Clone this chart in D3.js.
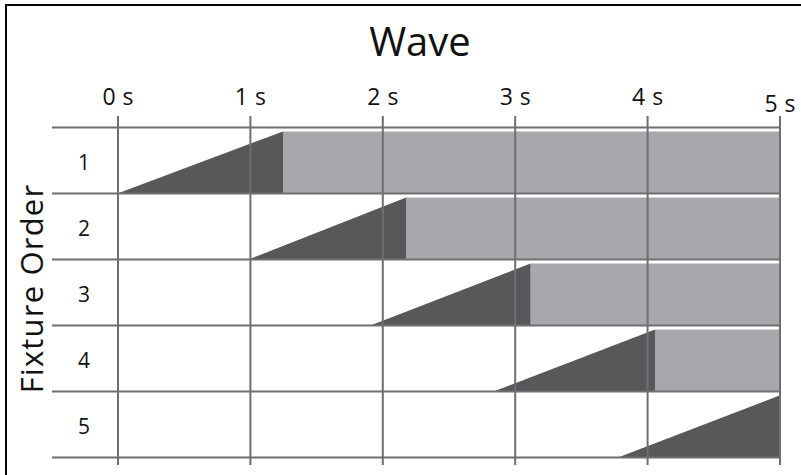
<!DOCTYPE html>
<html><head><meta charset="utf-8">
<script src="https://cdn.jsdelivr.net/npm/d3@7"></script>
<style>
html,body{margin:0;padding:0;background:#fff;}
svg{display:block;font-family:"Open Sans",sans-serif;}
</style></head>
<body>
<svg id="chart" width="801" height="475"></svg>
<script>
const title = "Wave";
const yTitle = "Fixture Order";
const fixtures = ["1", "2", "3", "4", "5"];
const rampStart = [0, 0.99, 1.91, 2.84, 3.78];
const rampEnd = [1.25, 2.18, 3.12, 4.06, 5.0];
const holdEnd = [5, 5, 5, 5, 5];
const timeTicks = [0, 1, 2, 3, 4, 5];

const svg = d3.select("#chart");
const x = d3.scaleLinear().domain([0, 5]).range([117.5, 779.5]);
const y = d3.scaleBand().domain(fixtures).range([127.5, 457.5]).padding(0);
const inset = 4;
const gridColor = "#6f6f72";

// frame (only top and left visible)
svg.append("path").attr("d", "M6,476 L6,5 L802,5").attr("fill", "none")
  .attr("stroke", "#000").attr("stroke-width", 2);

// title
svg.append("text").attr("x", 420).attr("y", 56).attr("text-anchor", "middle")
  .attr("font-size", 40).attr("fill", "#111").text(title);

// fills
const rows = fixtures.map((f, i) => ({f, s: rampStart[i], e: rampEnd[i], h: holdEnd[i]}));
const g = svg.append("g");
g.selectAll("rect.hold").data(rows).join("rect").attr("class", "hold")
  .attr("x", d => x(d.e)).attr("y", d => y(d.f) + inset)
  .attr("width", d => Math.max(0, x(d.h) - x(d.e)))
  .attr("height", y.bandwidth() - inset).attr("fill", "#a7a8ab");
g.selectAll("path.ramp").data(rows).join("path").attr("class", "ramp")
  .attr("d", d => {
    const b = y(d.f) + y.bandwidth(), t = y(d.f) + inset;
    return `M${x(d.s)},${b} L${x(d.e)},${t} L${x(d.e)},${b} Z`;
  }).attr("fill", "#58585a");

// horizontal lines
const bounds = fixtures.map(f => y(f)).concat([y.range()[1]]);
svg.append("g").selectAll("line").data(bounds).join("line")
  .attr("x1", 52).attr("x2", x(5)).attr("y1", d => d).attr("y2", d => d)
  .attr("stroke", gridColor).attr("stroke-width", 2);

// vertical grid / top axis
const axisY = 116;
const axis = d3.axisTop(x).tickValues(timeTicks).tickFormat(d => d + " s")
  .tickSizeInner(-(465 - axisY)).tickSizeOuter(0).tickPadding(11);
const ax = svg.append("g").attr("transform", `translate(0,${axisY})`).call(axis);
ax.select(".domain").remove();
ax.selectAll(".tick line").attr("stroke", gridColor).attr("stroke-width", 2);
ax.selectAll(".tick text").attr("font-size", 23).attr("fill", "#111")
  .attr("font-family", "Open Sans, sans-serif").attr("word-spacing", 1);
ax.selectAll(".tick text").filter(d => d === 5).attr("dy", "0.3em");

// row labels
svg.append("g").selectAll("text").data(fixtures).join("text")
  .attr("x", 84).attr("y", d => y(d) + y.bandwidth() / 2 + 9)
  .attr("text-anchor", "middle").attr("font-size", 21).attr("fill", "#111").text(d => d);

// y title
svg.append("text").attr("transform", `translate(43,${(y.range()[0] + y.range()[1]) / 2 - 4}) rotate(-90)`)
  .attr("text-anchor", "middle").attr("font-size", 31).attr("letter-spacing", 1.2)
  .attr("fill", "#111").text(yTitle);
</script>
</body></html>
